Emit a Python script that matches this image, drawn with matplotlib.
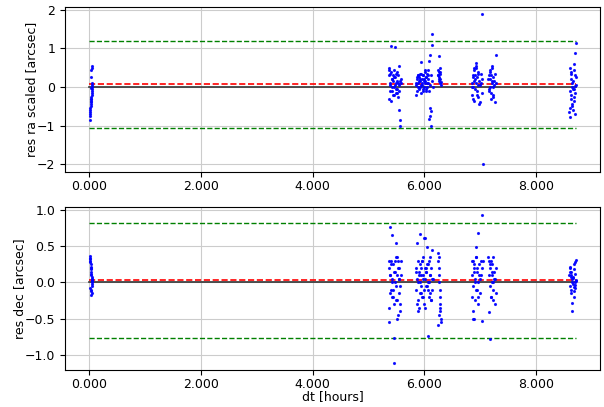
import matplotlib
matplotlib.use("Agg")
import matplotlib.pyplot as plt
import numpy as np
from matplotlib.ticker import FormatStrFormatter

plt.rcParams['font.size'] = 9

# ---- data (dt in hours, residuals in arcsec) ----
dt_a = [0.008, 0.012, 0.015, 0.018, 0.020, 0.022, 0.025, 0.027, 0.030, 0.032,
        0.035, 0.037, 0.040, 0.042, 0.045, 0.047, 0.050, 0.052, 0.055, 0.010,
        0.028, 0.038, 0.048, 0.033, 0.043]
ra_a = [-0.85, -0.7, -0.65, -0.6, -0.55, -0.5, -0.45, -0.4, -0.35, -0.3,
        -0.3, -0.25, -0.2, -0.15, -0.1, -0.05, 0.0, 0.05, 0.1, -0.75,
        0.25, 0.45, 0.55, -0.02, 0.5]
dec_a = [0.36, 0.34, 0.32, 0.30, 0.28, 0.25, 0.22, 0.20, 0.18, 0.15,
         0.12, 0.10, 0.07, 0.05, 0.03, 0.02, 0.0, -0.02, -0.05, -0.08,
         -0.10, -0.12, -0.15, -0.17, 0.05]

dt_b = [5.36, 5.37, 5.38, 5.39, 5.40, 5.41, 5.42, 5.43, 5.44, 5.45,
        5.46, 5.47, 5.48, 5.49, 5.50, 5.51, 5.52, 5.53, 5.54, 5.55,
        5.56, 5.57, 5.58, 5.59, 5.365, 5.375, 5.385, 5.395, 5.405, 5.415,
        5.425, 5.435, 5.445, 5.455, 5.465, 5.475, 5.485, 5.495, 5.505, 5.515,
        5.525, 5.535, 5.545, 5.555, 5.565]
ra_b = [0.5, 0.3, 0.1, -0.1, 1.05, 0.4, 0.2, 0.0, -0.2, 0.45,
        0.25, 0.05, 1.03, -0.15, 0.35, 0.15, -0.05, -0.25, -0.6, 0.55,
        -1.02, -0.85, 0.2, 0.1, 0.45, -0.3, 0.35, 0.05, -0.35, 0.2,
        -0.1, 0.3, 0.15, -0.2, 0.0, 0.25, 0.1, -0.05, 0.4, -0.15,
        0.1, 0.3, -0.1, 0.05, 0.15]
dec_b = [-0.55, 0.3, 0.77, 0.1, -0.1, 0.25, 0.65, 0.0, -0.2, -1.11,
         -0.77, 0.3, 0.15, -0.25, 0.55, 0.35, -0.5, -0.45, 0.05, 0.2,
         -0.3, -0.05, 0.1, 0.3, 0.2, -0.35, 0.1, -0.15, 0.3, 0.05,
         -0.2, 0.25, -0.1, 0.15, -0.3, 0.0, 0.35, -0.05, 0.1, -0.25,
         0.2, 0.3, -0.15, 0.05, -0.4]

dt_c = [5.850, 5.860, 5.870, 5.880, 5.890, 5.900, 5.910, 5.920, 5.930, 5.940,
        5.950, 5.960, 5.970, 5.980, 5.990, 6.000, 6.010, 6.020, 6.030, 6.040,
        6.050, 6.060, 6.070, 6.080, 6.090, 6.100, 6.110, 6.120, 6.130, 6.140,
        5.855, 5.865, 5.875, 5.885, 5.895, 5.905, 5.915, 5.925, 5.935, 5.945,
        5.955, 5.965, 5.975, 5.985, 5.995, 6.005, 6.015, 6.025, 6.035, 6.045,
        6.055, 6.065, 6.075, 6.085, 6.095, 6.105, 6.115, 6.125, 6.135, 6.150,
        6.250, 6.255, 6.260, 6.265, 6.270, 6.275, 6.280, 6.285, 6.290, 6.295,
        6.252, 6.262, 6.272, 6.282, 6.292]
ra_c = [-0.2, 0.1, 0.25, 0.0, 0.3, 0.15, -0.05, 0.35, 0.2, 0.05,
        0.64, 0.1, -0.1, 0.3, 0.2, 0.0, 0.4, 0.15, -0.05, 0.25,
        0.1, 0.45, 0.3, -0.1, 0.68, -0.54, 0.82, -0.62, 1.1, 1.36,
        0.05, 0.2, -0.1, 0.3, 0.1, 0.25, 0.0, 0.15, -0.15, 0.35,
        0.2, 0.05, 0.3, -0.05, 0.15, 0.45, 0.1, -0.1, 0.25, 0.0,
        0.35, 0.1, 0.2, -0.84, 0.05, -0.74, 0.3, -1.02, 0.15, 0.0,
        0.45, 0.3, 0.15, 0.4, 0.25, 0.1, 0.35, 0.2, 0.5, 0.05,
        0.3, 0.8, 0.2, 0.38, 0.12]
dec_c = [-0.1, 0.2, 0.05, -0.25, 0.3, 0.15, -0.35, 0.67, 0.0, -0.15,
         0.1, 0.3, -0.2, 0.05, 0.61, -0.3, 0.2, 0.61, -0.05, 0.15,
         0.49, -0.1, 0.25, 0.0, -0.2, 0.35, 0.1, -0.25, 0.45, 0.05,
         0.15, -0.3, 0.55, 0.0, -0.4, 0.1, 0.25, -0.15, 0.2, -0.05,
         0.3, -0.2, 0.1, 0.35, -0.1, 0.05, -0.35, 0.2, 0.15, -0.05,
         0.25, -0.74, 0.0, 0.3, -0.15, 0.1, -0.25, 0.2, -0.1, 0.05,
         0.41, 0.3, 0.2, 0.1, 0.0, -0.1, -0.2, -0.3, -0.4, -0.5,
         -0.59, -0.45, 0.35, -0.35, -0.55]

dt_d = [6.850, 6.860, 6.870, 6.880, 6.890, 6.900, 6.910, 6.920, 6.930, 6.940,
        6.950, 6.960, 6.970, 6.980, 6.990, 7.000, 7.010, 7.020, 7.030, 7.040,
        7.040, 6.855, 6.865, 6.875, 6.885, 6.895, 6.905, 6.915, 6.925, 6.935,
        6.945, 6.955, 6.965, 6.975, 7.045,
        7.150, 7.160, 7.170, 7.180, 7.190, 7.200, 7.210, 7.220, 7.230, 7.240,
        7.250, 7.260, 7.270, 7.280, 7.290, 7.155, 7.165, 7.175, 7.185, 7.195,
        7.205, 7.215, 7.225, 7.235, 7.245]
ra_d = [0.1, -0.2, 0.3, 0.0, 0.5, -0.35, 0.2, 0.55, 0.63, -0.1,
        0.25, 0.4, -0.25, 0.15, 0.05, -0.4, 0.35, 0.1, -0.15, 0.2,
        1.88, 0.0, 0.25, -0.3, 0.45, 0.15, -0.05, 0.3, 0.1, 0.5,
        -0.2, 0.05, 0.35, -0.45, -2.0,
        0.2, -0.1, 0.4, 0.0, 0.3, -0.3, 0.15, 0.5, -0.2, 0.25,
        0.05, 0.35, -0.4, 0.83, 0.1, 0.3, -0.05, 0.2, 0.45, -0.15,
        0.1, 0.55, -0.25, 0.0, 0.15]
dec_d = [0.1, -0.2, 0.3, -0.39, 0.2, -0.5, 0.0, 0.35, 0.49, -0.1,
         0.15, 0.68, -0.3, 0.25, 0.05, -0.15, 0.3, 0.1, -0.53, 0.2,
         0.94, 0.3, -0.05, -0.5, 0.15, 0.25, -0.25, 0.05, 0.35, -0.1,
         0.2, 0.0, -0.2, 0.1, 0.3,
         0.35, -0.41, 0.2, -0.78, 0.3, -0.2, 0.1, 0.25, -0.1, 0.0,
         0.15, -0.3, 0.05, 0.2, -0.15, 0.3, 0.1, -0.05, 0.25, -0.2,
         0.0, 0.15, -0.25, 0.35, 0.05]

dt_e = [8.715, 8.700, 8.690, 8.610, 8.680, 8.620, 8.705, 8.630, 8.670, 8.640,
        8.710, 8.650, 8.660, 8.615, 8.695, 8.625, 8.685, 8.635, 8.675, 8.645,
        8.655, 8.605, 8.665, 8.600, 8.702, 8.618, 8.712, 8.688, 8.628, 8.698]
ra_e = [1.15, 0.87, 0.6, 0.5, 0.45, 0.35, 0.3, 0.2, 0.15, 0.1,
        0.05, 0.0, -0.05, -0.1, -0.15, -0.2, -0.25, -0.3, -0.35, -0.45,
        -0.5, -0.55, -0.6, -0.65, -0.7, -0.78, 0.25, -0.05, 0.4, 0.02]
dec_e = [0.31, 0.28, 0.25, 0.2, 0.18, 0.15, 0.12, 0.1, 0.08, 0.05,
         0.03, 0.0, -0.02, -0.05, -0.08, -0.1, -0.12, -0.15, -0.2, -0.28,
         -0.4, 0.22, 0.06, 0.1, -0.03, 0.14, 0.02, -0.06, 0.08, 0.0]

# reference levels: mean and mean +/- 3 sigma
ra_levels = {"mean": 0.07, "hi": 1.19, "lo": -1.05}
dec_levels = {"mean": 0.035, "hi": 0.82, "lo": -0.77}

dt = np.array(dt_a + dt_b + dt_c + dt_d + dt_e)
res_ra = np.array(ra_a + ra_b + ra_c + ra_d + ra_e)
res_dec = np.array(dec_a + dec_b + dec_c + dec_d + dec_e)

fig = plt.figure(figsize=(6.04, 4.07), dpi=100)
ax1 = fig.add_axes([0.1076, 0.578, 0.886, 0.405])
ax2 = fig.add_axes([0.1076, 0.091, 0.886, 0.400])

x0, x1 = 0.0, dt.max()
for ax, res, lev, lab in [(ax1, res_ra, ra_levels, "res ra scaled [arcsec]"),
                          (ax2, res_dec, dec_levels, "res dec [arcsec]")]:
    ax.plot(dt, res, '.', color='b', markersize=2.5, alpha=0.85, zorder=3)
    ax.plot([x0, x1], [0, 0], color='#333333', lw=1.2, zorder=2)
    ax.plot([x0, x1], [lev["mean"], lev["mean"]], 'r--', lw=1.2, zorder=2)
    ax.plot([x0, x1], [lev["hi"], lev["hi"]], 'g--', lw=1, zorder=2)
    ax.plot([x0, x1], [lev["lo"], lev["lo"]], 'g--', lw=1, zorder=2)
    ax.grid(True, color='#cccccc')
    ax.set_ylabel(lab)
    ax.xaxis.set_major_formatter(FormatStrFormatter('%.3f'))
    ax.set_xticks([0, 2, 4, 6, 8])
    ax.tick_params(axis='x', pad=2.5)

ax1.set_yticks([-2, -1, 0, 1, 2])
ax2.set_yticks([-1.0, -0.5, 0.0, 0.5, 1.0])
ax1.yaxis.set_label_coords(-0.05, 0.5)
ax2.yaxis.set_label_coords(-0.073, 0.5)
ax2.set_xlabel("dt [hours]")
ax2.xaxis.set_label_coords(0.5, -0.125)

fig.savefig("out.png", dpi=100)
